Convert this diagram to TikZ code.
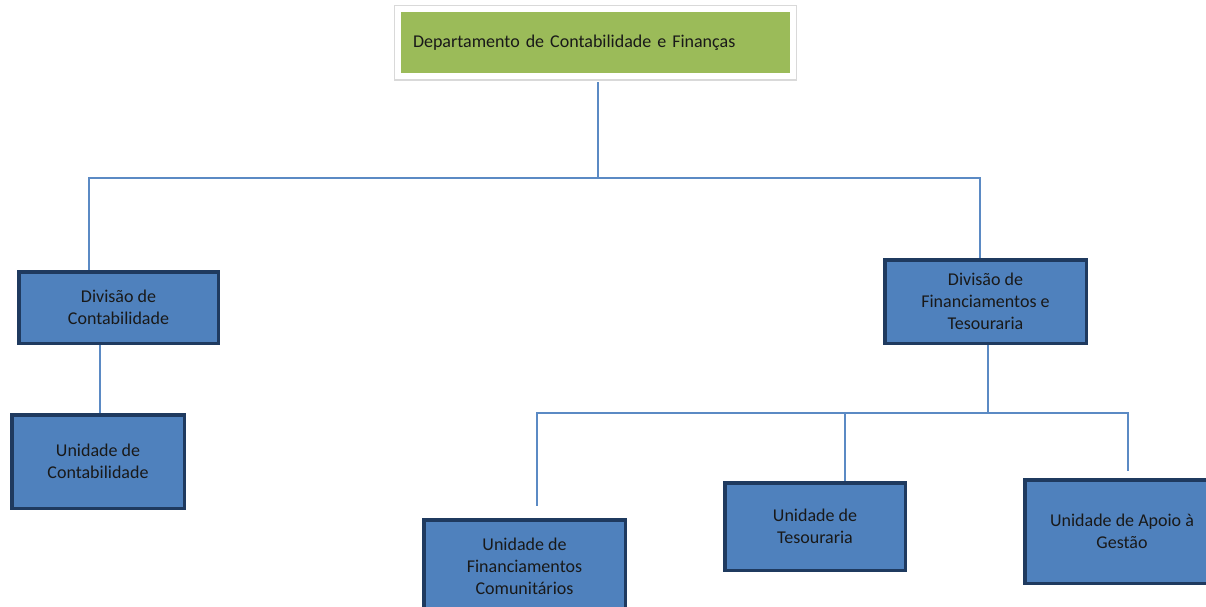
\documentclass[tikz,border=0pt]{standalone}
\usepackage{fontspec}
\setmainfont{Carlito}
\usetikzlibrary{positioning, shadows}
\definecolor{deptgreen}{HTML}{9BBB59}
\definecolor{unitblue}{HTML}{4F81BD}
\definecolor{unitedge}{HTML}{1F3A5F}
\definecolor{linkblue}{HTML}{5B8AC4}
\begin{document}
\begin{tikzpicture}[x=1pt,y=-1pt,nodebox/.style={draw=unitedge,line width=3.5pt,fill=unitblue,align=center,font=\fontsize{18}{22}\selectfont,text=black!90},deptbox/.style={draw=white,line width=6pt,fill=deptgreen,font=\fontsize{18}{22}\selectfont,text=black!90,align=left,inner xsep=15pt,preaction={draw=black!15,line width=9pt},drop shadow={shadow xshift=0pt,shadow yshift=-2pt,opacity=.25,fill=black!60}},link/.style={draw=linkblue,line width=1.1pt}]
\useasboundingbox (0,0) rectangle (1206,606);
\clip (0,0) rectangle (1206,606);
\node[deptbox, minimum width=394.5pt, minimum height=67pt, text width=364.5pt] (dept) at (595.25,42.5) {Departamento de Contabilidade e Finanças};
\node[nodebox, minimum width=199.5pt, minimum height=71.5pt] (divcont) at (118.5,307.5) {Divisão de\\Contabilidade};
\node[nodebox, minimum width=201.5pt, minimum height=83.5pt] (divfin) at (985.5,301.5) {Divisão de\\Financiamentos e\\Tesouraria};
\node[nodebox, minimum width=172.5pt, minimum height=93.5pt] (unitcont) at (98,461.5) {Unidade de\\Contabilidade};
\node[nodebox, minimum width=201.5pt, minimum height=92.5pt] (unitfin) at (524.5,566) {Unidade de\\Financiamentos\\Comunitários};
\node[nodebox, minimum width=180.5pt, minimum height=87.5pt] (unitteso) at (815,526.5) {Unidade de\\Tesouraria};
\node[nodebox, minimum width=194.5pt, minimum height=103.5pt] (unitapoio) at (1122,531.5) {Unidade de Apoio à\\Gestão};
\coordinate (topbus) at (598,178);
\coordinate (lowbus) at (988,413);
\draw[link] ([shift={(2.75,3)}]dept.south) -- (topbus);
\draw[link] (topbus) -| ([xshift=-29.5pt]divcont.north);
\draw[link] (topbus) -| ([xshift=-5.5pt]divfin.north);
\draw[link] ([xshift=2pt]unitcont.north) -- ([xshift=2pt]unitcont.north |- divcont.south);
\draw[link] ([xshift=2.5pt]divfin.south) -- (lowbus);
\draw[link] (lowbus) -| ([shift={(12.5,-11.75)}]unitfin.north);
\draw[link] (lowbus) -| ([xshift=30pt]unitteso.north);
\draw[link] (lowbus) -| ([shift={(6,-6.75)}]unitapoio.north);
\end{tikzpicture}
\end{document}
